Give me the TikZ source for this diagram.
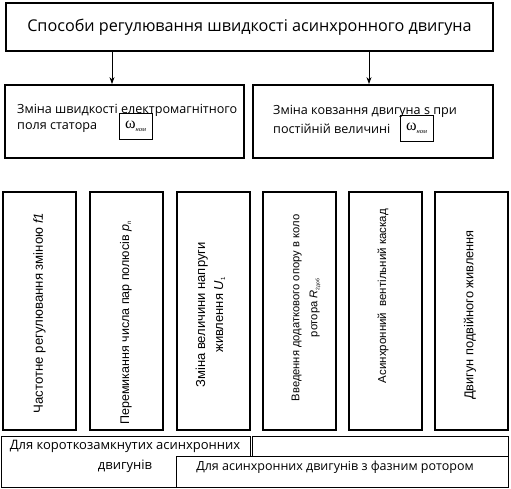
\documentclass[tikz,border=0pt]{standalone}
\usepackage{fontspec}
\setmainfont{Open Sans}
\newfontfamily\arialf{Liberation Sans}
\newfontfamily\tmsf{Liberation Serif}
\usetikzlibrary{arrows.meta}
\newcommand{\omnom}{{\tmsf\fontsize{16}{16}\selectfont ω\raisebox{-3pt}{\fontsize{6.5}{6.5}\selectfont\itshape ном}}}
\begin{document}
\begin{tikzpicture}[x=1pt,y=-1pt,
  thickbox/.style={draw, line width=1.8pt, inner sep=0pt},
  thinbox/.style={draw, line width=0.8pt, inner sep=0pt, fill=white},
  omegabox/.style={draw, line width=0.8pt, inner sep=0pt, minimum width=33pt, minimum height=26pt},
  vtext/.style={rotate=90, align=center, font=\arialf\fontsize{#1}{18}\selectfont},
  mtext/.style={anchor=west, inner sep=0pt, font=\fontsize{12.6}{14}\selectfont},
  arr/.style={-{Stealth[length=7pt,width=5pt]}, line width=0.8pt}]
\useasboundingbox (0,0) rectangle (511,489);
% title
\node[thickbox, minimum width=487pt, minimum height=48pt, font=\fontsize{16.2}{18}\selectfont] (top) at (249.5,27) {Способи регулювання швидкості асинхронного двигуна};
% middle boxes
\node[thickbox, minimum width=239pt, minimum height=73pt] (ml) at (124.5,121.5) {};
\node[thickbox, minimum width=240pt, minimum height=73pt] (mr) at (373,121.5) {};
\node[mtext] (mlt1) at (17,110) {Зміна швидкості електромагнітного};
\node[mtext] (mlt2) at (17,128) {поля статора};
\node[omegabox] (om1) at (135.5,126) {\omnom};
\node[mtext] (mrt1) at (273,111) {Зміна ковзання двигуна s при};
\node[mtext] (mrt2) at (273,129) {постійній величині};
\node[omegabox] (om2) at (416.5,128) {\omnom};
% arrows
\coordinate (a1) at (112,0);
\coordinate (a2) at (369,0);
\draw[arr] (a1 |- top.south) -- (a1 |- ml.north);
\draw[arr] (a2 |- top.south) -- (a2 |- mr.north);
% vertical boxes
\node[thickbox, minimum width=73pt, minimum height=238pt] (v1) at (39.5,311) {};
\node[thickbox, minimum width=73pt, minimum height=238pt] (v2) at (126.5,311) {};
\node[thickbox, minimum width=73pt, minimum height=238pt] (v3) at (213.5,311) {};
\node[thickbox, minimum width=73pt, minimum height=238pt] (v4) at (299.5,311) {};
\node[thickbox, minimum width=73pt, minimum height=238pt] (v5) at (385.5,311) {};
\node[thickbox, minimum width=73pt, minimum height=238pt] (v6) at (471.5,311) {};
\node[vtext=13.2] (t1) at (39.5,313) {Частотне регулювання зміною \textit{f1}};
\node[vtext=12.5] (t2) at (126,323) {Перемикання числа пар полюсів \textit{p}\raisebox{-2pt}{\fontsize{6}{6}\selectfont п}};
\node[vtext=13] (t3) at (210.5,315) {Зміна величини напруги\\живлення \textit{U}\raisebox{-2pt}{\fontsize{6}{6}\selectfont 1}};
\node[vtext=11.2] (t4) at (306,308) {Введення додаткового опору в коло\\ротора \textit{R}\raisebox{-2pt}{\fontsize{5}{5}\selectfont 2доб}};
\node[vtext=11.5] (t5) at (383,296) {Асинхронний \ вентільний каскад};
\node[vtext=12.8] (t6) at (470,315) {Двигун подвійного живлення};
% bottom boxes
\draw[line width=0.8pt] (1,436) rectangle (250,487);
\draw[line width=0.8pt] (252,436) rectangle (508,487);
\node[thinbox, minimum width=332pt, minimum height=31pt] (b2) at (342,471.5) {};
\node[align=center, inner sep=0pt, font=\fontsize{13}{20}\selectfont] (b1t) at (125,456) {Для короткозамкнутих асинхронних\\двигунів};
\node[inner sep=0pt, font=\fontsize{12.5}{14}\selectfont] (b2t) at (335,467) {Для асинхронних двигунів з фазним ротором};
\end{tikzpicture}
\end{document}
